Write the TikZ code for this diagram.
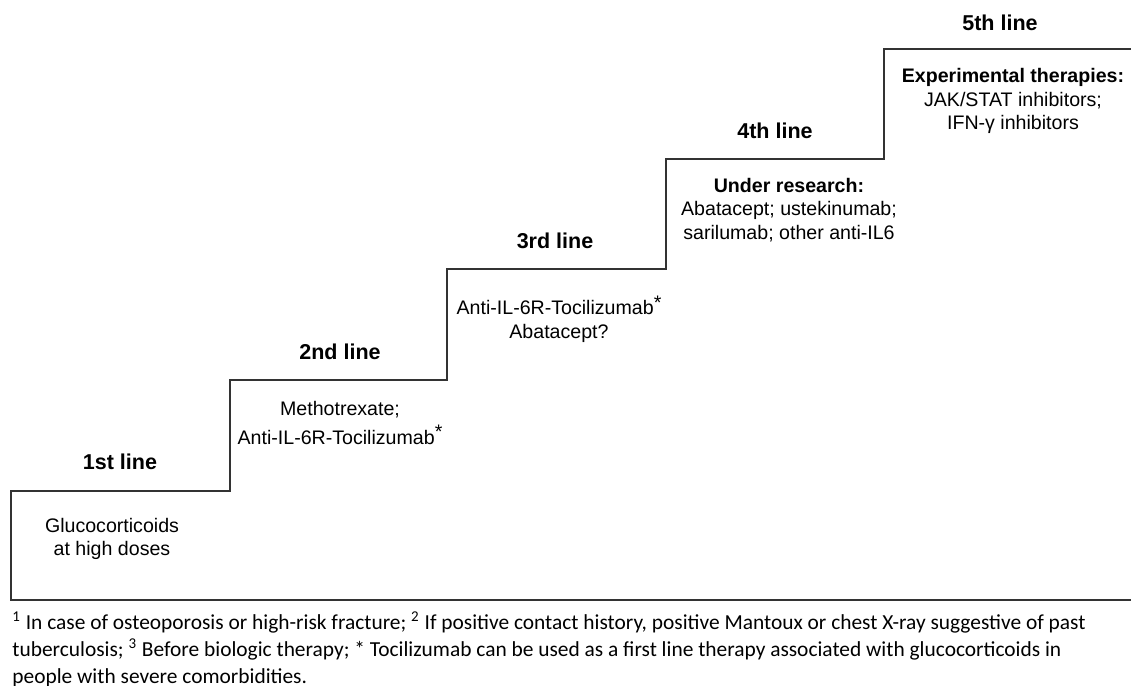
\documentclass[tikz,border=0pt]{standalone}
\usepackage{fontspec}
\setmainfont{Liberation Sans}
\newfontfamily\notefont{Carlito}
\usetikzlibrary{positioning}

\tikzset{
  stair/.style={draw=black!80, line width=1pt},
  stephead/.style={font=\fontsize{10.75}{13}\selectfont\bfseries, inner sep=0pt},
  drugs/.style={font=\fontsize{9.8}{11.6}\selectfont, align=center, inner sep=0pt},
  footnote/.style={font=\notefont\fontsize{10.7}{13.5}\selectfont, align=left, inner sep=0pt, anchor=north west},
}
\newcommand{\tocistar}{\raisebox{0.55ex}{*}}

\begin{document}
\begin{tikzpicture}[x=0.5pt,y=-0.5pt]
\useasboundingbox (0,0) rectangle (1131,686);
% staircase
\draw[stair] (1131,600) -- (11,600) -- (11,491) -- (230,491) -- (230,380)
  -- (447,380) -- (447,269) -- (666,269) -- (666,159) -- (884,159)
  -- (884,49) -- (1131,49);
% step headings
\node[stephead] (line1) at (120,462) {1st line};
\node[stephead] (line2) at (340,352) {2nd line};
\node[stephead] (line3) at (555,241) {3rd line};
\node[stephead] (line4) at (775,131) {4th line};
\node[stephead] (line5) at (1000,23) {5th line};
% therapies
\node[drugs] (drugs1) at (112,539) {Glucocorticoids\\at high doses};
\node[drugs] (drugs2) at (340,423) {Methotrexate;\\[3pt]Anti-IL-6R-Tocilizumab\tocistar};
\node[drugs] (drugs3) at (559,319) {Anti-IL-6R-Tocilizumab\tocistar\\Abatacept?};
\node[drugs] (drugs4) at (789,210) {\textbf{Under research:}\\Abatacept; ustekinumab;\\sarilumab; other anti-IL6};
\node[drugs] (drugs5) at (1013,101) {\textbf{Experimental therapies:}\\JAK/STAT inhibitors;\\IFN-γ inhibitors};
% footnote
\node[footnote] (notes) at (12,611) {\textsuperscript{1} In case of osteoporosis or high-risk fracture; \textsuperscript{2} If positive contact history, positive Mantoux or chest X-ray suggestive of past\\
tuberculosis; \textsuperscript{3} Before biologic therapy; * Tocilizumab can be used as a first line therapy associated with glucocorticoids in\\
people with severe comorbidities.};
\end{tikzpicture}
\end{document}
